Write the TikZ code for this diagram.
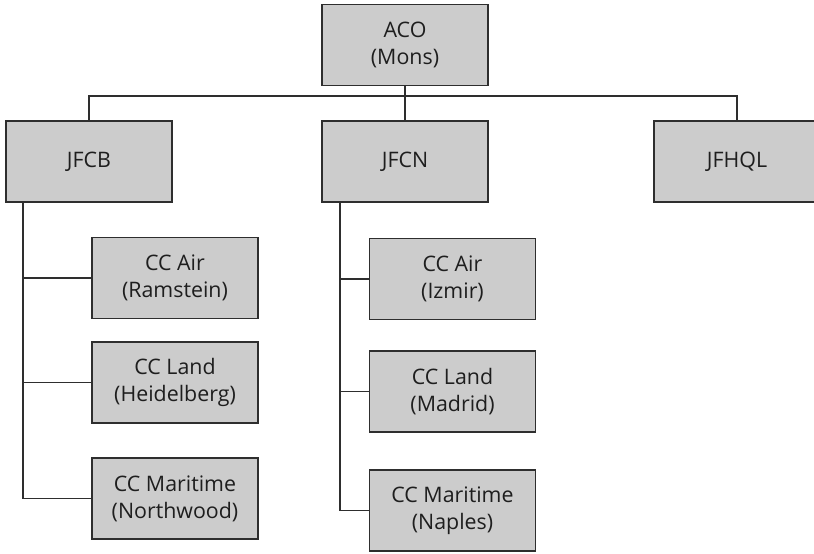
\documentclass[tikz,border=0pt]{standalone}
\usepackage{fontspec}
\setmainfont{Open Sans}
\usetikzlibrary{positioning}
\definecolor{boxfill}{HTML}{CCCCCC}
\definecolor{edgegray}{HTML}{2E2E2E}
\definecolor{inkgray}{HTML}{1E1E1E}
\tikzset{
	link/.style={line width=1.1pt,draw=edgegray},
	unit/.style={draw=edgegray,line width=1.1pt,fill=boxfill,text=inkgray,align=center,
		minimum width=4.15cm,minimum height=2.025cm,inner sep=0pt,
		font=\fontsize{15.2}{19}\selectfont},
}
\begin{document}
\begin{tikzpicture}[x=0.025cm,y=-0.025cm]
	\useasboundingbox (0,0) rectangle (814,553);
	\begin{scope}
	\clip (0,0) rectangle (814,553);

	% top of the tree...................
	\node [unit] (aco) at (405,45) {ACO\\(Mons)};

	% second row.........................
	\node [unit] (jfcb)  at (89,161.5)  {JFCB};
	\node [unit] (jfcn)  at (405,161.5) {JFCN};
	\node [unit] (jfhql) at (737,161.5) {JFHQL};

	% commands under JFCB................
	\node [unit] (airb)  at (175,278)   {CC Air\\(Ramstein)};
	\node [unit] (landb) at (175,382.5) {CC Land\\(Heidelberg)};
	\node [unit] (seab)  at (175,498.5) {CC Maritime\\(Northwood)};

	% commands under JFCN................
	\node [unit] (airn)  at (452.5,279)   {CC Air\\(Izmir)};
	\node [unit] (landn) at (452.5,391.5) {CC Land\\(Madrid)};
	\node [unit] (sean)  at (452.5,510.5) {CC Maritime\\(Naples)};

	% bus from ACO.......................
	\coordinate (bus) at (0,96);
	\draw [link] (aco.south) -- (jfcn.north);
	\draw [link] (jfcb.north) |- (bus -| aco.south);
	\draw [link] (jfhql.north) |- (bus -| aco.south);

	% spines.............................
	\coordinate (spineb) at (23,0);
	\coordinate (spinen) at (340,0);
	\draw [link] (jfcb.south -| spineb) |- (airb.west);
	\draw [link] (jfcb.south -| spineb) |- (landb.west);
	\draw [link] (jfcb.south -| spineb) |- (seab.west);
	\draw [link] (jfcn.south -| spinen) |- (airn.west);
	\draw [link] (jfcn.south -| spinen) |- (landn.west);
	\draw [link] (jfcn.south -| spinen) |- (sean.west);
	\end{scope}
\end{tikzpicture}
\end{document}
